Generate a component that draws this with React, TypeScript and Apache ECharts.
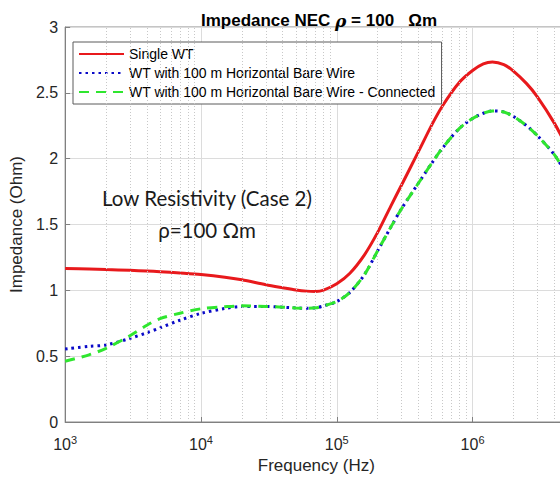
import React, { useEffect, useRef } from "react";
import * as echarts from "echarts";

const frequencies = [
  1e3, 1.5e3, 2e3, 3e3, 4e3, 5e3, 7e3, 1e4, 1.5e4, 2e4, 3e4, 4e4, 5e4, 6e4, 7e4, 8e4,
  1e5, 1.25e5, 1.6e5, 2e5, 2.5e5, 3e5, 4e5, 5e5, 6e5, 8e5, 1e6, 1.2e6, 1.4e6, 1.7e6,
  2e6, 2.5e6, 3e6, 4e6, 5e6,
];

const singleWT = [
  1.165, 1.162, 1.158, 1.152, 1.147, 1.142, 1.132, 1.12, 1.1, 1.08, 1.043, 1.02, 1.003,
  0.994, 0.992, 1.002, 1.05, 1.13, 1.27, 1.44, 1.64, 1.8, 2.055, 2.255, 2.4, 2.58, 2.67,
  2.72, 2.735, 2.715, 2.665, 2.57, 2.47, 2.27, 2.08,
];

const bareWire = [
  0.555, 0.575, 0.585, 0.635, 0.678, 0.715, 0.773, 0.825, 0.862, 0.878, 0.878, 0.872,
  0.866, 0.864, 0.867, 0.882, 0.915, 0.985, 1.12, 1.3, 1.48, 1.62, 1.815, 1.965, 2.08, 2.23,
  2.305, 2.345, 2.362, 2.355, 2.32, 2.25, 2.175, 2.03, 1.87,
];

const bareWireConnected = [
  0.462, 0.51, 0.56, 0.655, 0.735, 0.785, 0.826, 0.86, 0.875, 0.882, 0.878, 0.872, 0.866,
  0.864, 0.867, 0.882, 0.915, 0.985, 1.12, 1.3, 1.48, 1.62, 1.815, 1.965, 2.08, 2.23, 2.305,
  2.345, 2.362, 2.355, 2.32, 2.25, 2.175, 2.03, 1.87,
];

const seriesNames = [
  "Single WT",
  "WT with 100 m Horizontal Bare Wire",
  "WT with 100 m Horizontal Bare Wire - Connected",
];

const decades = [1e3, 1e4, 1e5, 1e6];
const minorMultipliers = [2, 3, 4, 5, 6, 7, 8, 9];
const yTicks = ["0", "0.5", "1", "1.5", "2", "2.5", "3"];

const FONT = "Liberation Sans, Arial, sans-serif";

export default function App() {
  const ref = useRef<HTMLDivElement>(null);

  useEffect(() => {
    if (!ref.current) return;
    const chart = echarts.init(ref.current, null, { renderer: "svg" });
    const minorLines: { xAxis: number }[] = [];
    decades.forEach((d) =>
      minorMultipliers.forEach((m) => {
        if (m * d <= 5e6) minorLines.push({ xAxis: m * d });
      })
    );
    const toPairs = (vals: number[]) => frequencies.map((f, i) => [f, vals[i]]);

    chart.setOption({
      animation: false,
      backgroundColor: "#ffffff",
      title: {
        text: "{a|Impedance NEC }{i|ρ}{a| = 100   Ωm}",
        left: 314,
        textAlign: "center",
        top: 7,
        textStyle: {
          rich: {
            a: { fontSize: 17, fontWeight: "bold", fontFamily: FONT, color: "#000" },
            i: { fontSize: 17, fontStyle: "italic", fontFamily: "DejaVu Serif", color: "#000" },
          },
        },
      },
      legend: {
        data: seriesNames,
        orient: "vertical",
        left: 73,
        top: 42,
        itemWidth: 45,
        itemHeight: 14,
        itemGap: 5,
        padding: [5, 6, 5, 5],
        borderColor: "#5a5a5a",
        borderWidth: 1,
        backgroundColor: "#ffffff",
        itemStyle: { opacity: 0, borderWidth: 0 },
        textStyle: { fontSize: 14, fontFamily: FONT, color: "#000" },
      },
      grid: {
        left: 61,
        top: 27,
        width: 506.5,
        height: 400,
        show: true,
        borderColor: "#8a8a8a",
        borderWidth: 1,
      },
      xAxis: {
        type: "log",
        logBase: 10,
        min: 1e3,
        max: 5e6,
        axisLine: { lineStyle: { color: "#808080" } },
        axisTick: { inside: true, length: 5, lineStyle: { color: "#808080" } },
        splitLine: { show: true, lineStyle: { color: "#dcdcdc", width: 1 } },
        axisLabel: {
          margin: 6,
          showMaxLabel: false,
          formatter: (v: number) => {
            const e = Math.log10(v);
            const r = Math.round(e);
            if (Math.abs(e - r) > 1e-6) return "";
            return `{b|10}{s|${r}}`;
          },
          rich: {
            b: { fontSize: 16, fontFamily: FONT, color: "#262626", padding: [8, 0, 0, 0] },
            s: { fontSize: 11, fontFamily: FONT, color: "#262626", padding: [0, 0, 0, 0] },
          },
        },
        name: "Frequency (Hz)",
        nameLocation: "middle",
        nameGap: 35,
        nameTextStyle: { fontSize: 17, fontFamily: FONT, color: "#262626" },
      },
      yAxis: {
        type: "value",
        min: 0,
        max: 3,
        interval: 0.5,
        axisLine: { show: true, lineStyle: { color: "#808080" } },
        axisTick: { show: true, inside: true, length: 5, lineStyle: { color: "#808080" } },
        splitLine: { show: true, lineStyle: { color: "#dcdcdc", width: 1 } },
        axisLabel: {
          margin: 7,
          fontSize: 16,
          fontFamily: FONT,
          color: "#262626",
          formatter: (v: number) => yTicks[Math.round(v * 2)] ?? String(v),
        },
        name: "Impedance (Ohm)",
        nameLocation: "middle",
        nameGap: 36,
        nameRotate: 90,
        nameTextStyle: { fontSize: 17, fontFamily: FONT, color: "#262626" },
      },
      graphic: [
        {
          type: "text",
          x: 207,
          y: 198,
          z: 10,
          style: {
            text: "Low Resistivity (Case 2)",
            fontSize: 20.5,
            fontFamily: "Lato",
            fill: "#1a1a1a",
            align: "center",
            verticalAlign: "middle",
          },
        },
        {
          type: "text",
          x: 207,
          y: 230,
          z: 10,
          style: {
            text: "ρ=100 Ωm",
            fontSize: 20.5,
            fontFamily: "Lato",
            fill: "#1a1a1a",
            align: "center",
            verticalAlign: "middle",
          },
        },
      ],
      series: [
        {
          name: "minor-grid",
          type: "line",
          data: [],
          z: 0,
          silent: true,
          markLine: {
            silent: true,
            symbol: ["none", "none"],
            label: { show: false },
            lineStyle: { type: [1, 2], color: "#c8c8c8", width: 1 },
            data: minorLines,
          },
        },
        {
          name: seriesNames[0],
          type: "line",
          data: toPairs(singleWT),
          symbol: "none",
          smooth: 0.3,
          z: 3,
          lineStyle: { color: "#e8191c", width: 3 },
          itemStyle: { color: "#e8191c" },
        },
        {
          name: seriesNames[1],
          type: "line",
          data: toPairs(bareWire),
          symbol: "none",
          smooth: 0.3,
          z: 4,
          lineStyle: { color: "#0a0ac8", width: 3, type: [2.5, 4] },
          itemStyle: { color: "#0a0ac8" },
        },
        {
          name: seriesNames[2],
          type: "line",
          data: toPairs(bareWireConnected),
          symbol: "none",
          smooth: 0.3,
          z: 5,
          lineStyle: { color: "#2fe62f", width: 3, type: [10, 7] },
          itemStyle: { color: "#2fe62f" },
        },
      ],
    });
    return () => chart.dispose();
  }, []);

  return (
    <div
      style={{
        position: "fixed",
        left: 0,
        top: 0,
        width: 560,
        height: 479,
        overflow: "hidden",
        background: "#fff",
      }}
    >
      <div ref={ref} style={{ width: 600, height: 479 }} />
    </div>
  );
}
